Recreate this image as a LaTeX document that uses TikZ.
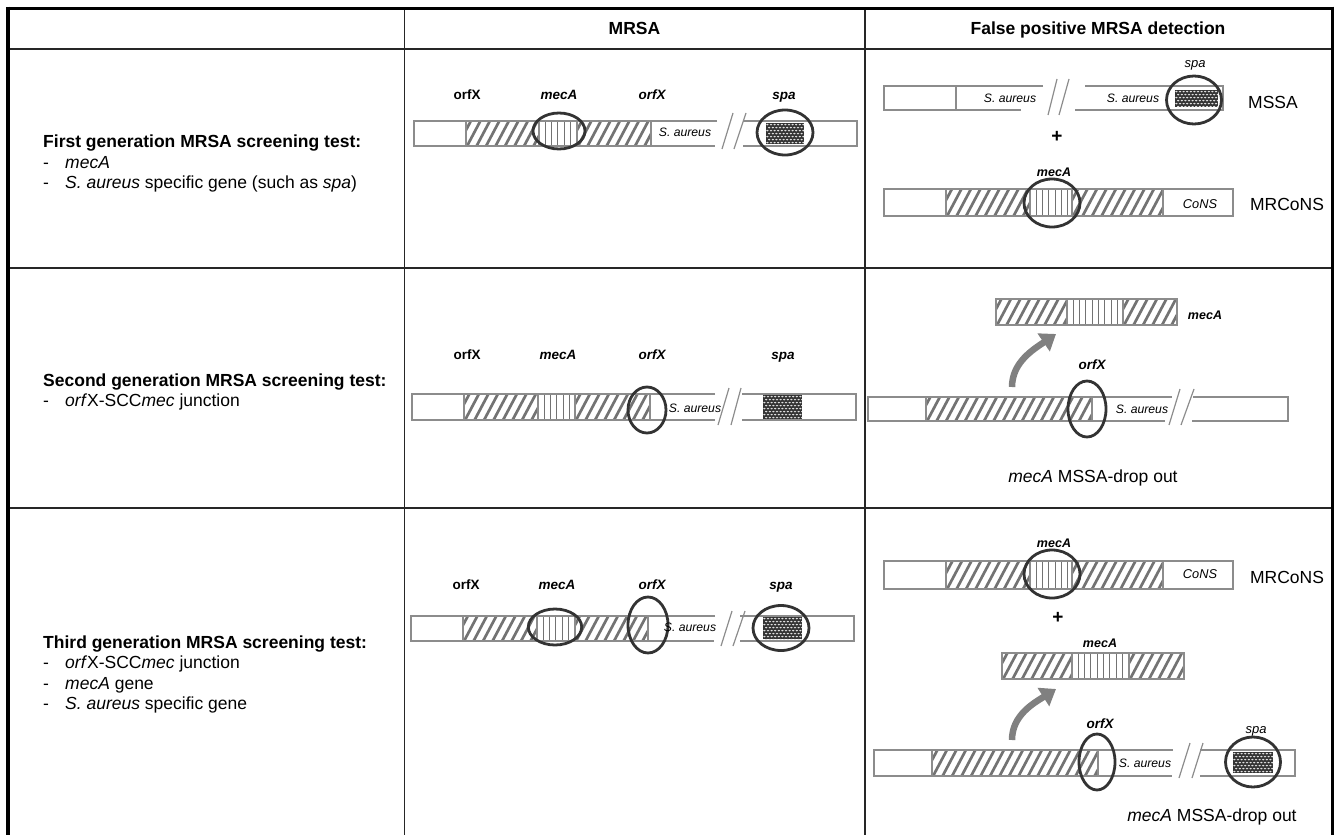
\documentclass[tikz,border=0pt]{standalone}
\usepackage{fontspec}
\setmainfont{Liberation Sans}
\usetikzlibrary{arrows.meta}

\tikzset{
  frame/.style={line width=3.2pt, black},
  grid/.style={line width=1.5pt, black!85},
  barline/.style={draw=black!45, line width=1.2pt},
  hatchline/.style={draw=black!55, line width=2.7pt},
  vline/.style={draw=black!55, line width=0.9pt},
  ring/.style={draw=black!80, line width=2.8pt},
  spafill/.style={fill=black!80},
  spadot/.style={fill=black!12},
  brk/.style={draw=black!45, line width=1.2pt},
  flip/.style={draw=black!50, line width=6.5pt, -{Triangle[length=15pt,width=21pt]}},
  head/.style={inner sep=0pt, text height=12.6pt, text depth=0pt, font=\fontsize{17.5}{20}\selectfont\bfseries},
  lefttxt/.style={inner sep=0pt, text height=12.6pt, text depth=0pt, anchor=west, font=\fontsize{17.5}{20}\selectfont},
  gene/.style={inner sep=0pt, text height=9.7pt, text depth=0pt, font=\fontsize{13.5}{15}\selectfont\bfseries},
  species/.style={inner sep=0pt, text height=8.8pt, text depth=0pt, font=\fontsize{12.2}{14}\selectfont\itshape},
  big/.style={inner sep=0pt, text height=12.6pt, text depth=0pt, font=\fontsize{17.5}{20}\selectfont},
  plus/.style={inner sep=0pt, font=\fontsize{19}{20}\selectfont\bfseries},
}

% hatched SCCmec segment: x1 y1 x2 y2
\newcommand\hatchbox[4]{%
  \begin{scope}
    \clip (#1,#2) rectangle (#3,#4);
    \foreach \k in {-4,...,22}{\draw[hatchline] ({#1+\k*9.5},#4+2) -- ++(17,-32);}
  \end{scope}
  \draw[barline] (#1,#2) rectangle (#3,#4);}

% vertically striped mecA segment
\newcommand\vstripebox[4]{%
  \begin{scope}
    \clip (#1,#2) rectangle (#3,#4);
    \foreach \k in {1,...,10}{\draw[vline] ({#1+\k*6.3},#2) -- ({#1+\k*6.3},#4);}
  \end{scope}
  \draw[barline] (#1,#2) rectangle (#3,#4);}

% dotted spa segment
\newcommand\spabox[4]{%
  \fill[spafill] (#1,#2) rectangle (#3,#4);
  \begin{scope}
    \clip (#1,#2) rectangle (#3,#4);
    \foreach \rr in {0,...,8}{
      \foreach \cc in {0,...,13}{
        \fill[spadot] ({#1+1.4+\cc*3.6+mod(\rr,2)*1.8},{#2+1.6+\rr*3.0}) ellipse (1.25 and 0.85);}}
  \end{scope}}

\begin{document}
\begin{tikzpicture}[x=1pt, y=-1pt]
\useasboundingbox (0,0) rectangle (1337,835);

% ---------------- table ----------------
\draw[grid] (8,49) -- (1332,49);
\draw[grid] (8,268) -- (1332,268);
\draw[grid] (8,508) -- (1332,508);
\draw[grid] (404.5,8) -- (404.5,835);
\draw[grid] (865,8) -- (865,835);
\draw[frame] (6.4,8.3) -- (1334,8.3);
\draw[frame] (8,6.7) -- (8,835);
\draw[frame] (1332.4,6.7) -- (1332.4,835);

\node[head] (hmrsa) at (634.5,28.5) {MRSA};
\node[head] (hfalse) at (1098,28.5) {False positive MRSA detection};

% ---------------- left column ----------------
\node[lefttxt, font=\fontsize{17.5}{20}\selectfont\bfseries] (g1) at (43,141) {First generation MRSA screening test:};
\node[lefttxt] (g1a) at (43,161.7) {\makebox[22pt][l]{-}\textit{mecA}};
\node[lefttxt] (g1b) at (43,182.3) {\makebox[22pt][l]{-}\textit{S. aureus} specific gene (such as \textit{spa})};

\node[lefttxt, font=\fontsize{17.5}{20}\selectfont\bfseries] (g2) at (43,380) {Second generation MRSA screening test:};
\node[lefttxt] (g2a) at (43,400.6) {\makebox[22pt][l]{-}\textit{orf}X-SCC\textit{mec} junction};

\node[lefttxt, font=\fontsize{17.5}{20}\selectfont\bfseries] (g3) at (43,641.7) {Third generation MRSA screening test:};
\node[lefttxt] (g3a) at (43,662.3) {\makebox[22pt][l]{-}\textit{orf}X-SCC\textit{mec} junction};
\node[lefttxt] (g3b) at (43,683) {\makebox[22pt][l]{-}\textit{mecA} gene};
\node[lefttxt] (g3c) at (43,703.6) {\makebox[22pt][l]{-}\textit{S. aureus} specific gene};

% ---------------- MRSA, row 1 ----------------
\draw[barline] (414,121) rectangle (466,146);
\hatchbox{466}{121}{539}{146}
\vstripebox{539}{121}{577}{146}
\hatchbox{577}{121}{651}{146}
\draw[barline] (717,121) -- (651,121);
\draw[barline] (651,146) -- (715,146);
\draw[brk] (722,149) -- (733,113);
\draw[brk] (734,149) -- (746,113);
\draw[barline] (743,121) -- (857,121) -- (857,146) -- (743,146);
\spabox{766}{123}{804}{144}
\draw[ring] (559,131) ellipse (26 and 18);
\draw[ring] (785,132.5) ellipse (28 and 22.5);
\node[species] (a1sa) at (685,132) {S. aureus};
\node[gene] (a1o1) at (467,95) {orfX};
\node[gene, font=\fontsize{13.5}{15}\selectfont\bfseries\itshape] (a1m) at (559,95) {mecA};
\node[gene, font=\fontsize{13.5}{15}\selectfont\bfseries\itshape] (a1o2) at (652,95) {orfX};
\node[gene, font=\fontsize{13.5}{15}\selectfont\bfseries\itshape] (a1s) at (784,95) {spa};

% ---------------- MRSA, row 2 ----------------
\draw[barline] (412,394) rectangle (464,420);
\hatchbox{464}{394}{538}{420}
\vstripebox{538}{394}{575}{420}
\hatchbox{575}{394}{650}{420}
\draw[barline] (715,394) -- (650,394);
\draw[barline] (650,420) -- (715,420);
\draw[brk] (718,425) -- (729,388);
\draw[brk] (731,425) -- (741,388);
\draw[barline] (742,394) -- (856,394) -- (856,420) -- (742,420);
\spabox{763}{395}{802}{419}
\draw[ring] (647,410) ellipse (19 and 23);
\node[species] (a2sa) at (695,408) {S. aureus};
\node[gene] (a2o1) at (467,355) {orfX};
\node[gene, font=\fontsize{13.5}{15}\selectfont\bfseries\itshape] (a2m) at (558,355) {mecA};
\node[gene, font=\fontsize{13.5}{15}\selectfont\bfseries\itshape] (a2o2) at (652,355) {orfX};
\node[gene, font=\fontsize{13.5}{15}\selectfont\bfseries\itshape] (a2s) at (783,355) {spa};

% ---------------- MRSA, row 3 ----------------
\draw[barline] (411,616) rectangle (463,641);
\hatchbox{463}{616}{537}{641}
\vstripebox{537}{616}{575}{641}
\hatchbox{575}{616}{648}{641}
\draw[barline] (715,616) -- (648,616);
\draw[barline] (648,641) -- (714,641);
\draw[brk] (721,646) -- (732,611);
\draw[brk] (733,646) -- (745,611);
\draw[barline] (740,616) -- (854,616) -- (854,641) -- (740,641);
\spabox{763}{617}{802}{639}
\draw[ring] (555,627) ellipse (26.7 and 18);
\draw[ring] (648,625) ellipse (20 and 28);
\draw[ring] (781,628) ellipse (28 and 22.5);
\node[species] (a3sa) at (690,627) {S. aureus};
\node[gene] (a3o1) at (466,585) {orfX};
\node[gene, font=\fontsize{13.5}{15}\selectfont\bfseries\itshape] (a3m) at (557,585) {mecA};
\node[gene, font=\fontsize{13.5}{15}\selectfont\bfseries\itshape] (a3o2) at (652,585) {orfX};
\node[gene, font=\fontsize{13.5}{15}\selectfont\bfseries\itshape] (a3s) at (781,585) {spa};

% ---------------- false positives, row 1 ----------------
% MSSA
\draw[barline] (884,86) rectangle (956,110);
\draw[barline] (1043,86) -- (956,86);
\draw[barline] (956,110) -- (1021,110);
\draw[brk] (1048,115) -- (1057,79);
\draw[brk] (1059,115) -- (1069,79);
\draw[barline] (1085,86) -- (1223,86) -- (1223,110) -- (1075,110);
\spabox{1175}{90}{1218}{107}
\draw[ring] (1194,100) ellipse (27.5 and 24);
\node[species] (b1sa1) at (1010,98) {S. aureus};
\node[species] (b1sa2) at (1133,98) {S. aureus};
\node[species, font=\fontsize{13}{15}\selectfont\itshape] (b1s) at (1195,63) {spa};
\node[big] (b1mssa) at (1273,102) {MSSA};
\node[plus] (b1plus) at (1057,137) {+};
% MRCoNS
\draw[barline] (884,189) rectangle (946,216);
\hatchbox{946}{189}{1030}{216}
\vstripebox{1030}{189}{1072}{216}
\hatchbox{1072}{189}{1163}{216}
\draw[barline] (1163,189) rectangle (1233,216);
\draw[ring] (1052,203) ellipse (28 and 24);
\node[gene, font=\fontsize{12.5}{14}\selectfont\bfseries\itshape] (b1m) at (1054,172) {mecA};
\node[species, font=\fontsize{12.8}{14}\selectfont\itshape] (b1cons) at (1200,204) {CoNS};
\node[big] (b1mrcons) at (1287,204) {MRCoNS};

% ---------------- false positives, row 2 ----------------
\hatchbox{996}{299}{1067}{325}
\vstripebox{1067}{299}{1123}{325}
\hatchbox{1123}{299}{1177}{325}
\node[gene, font=\fontsize{12.5}{14}\selectfont\bfseries\itshape] (b2m) at (1205,315) {mecA};
\coordinate (b2from) at (1012,387);
\coordinate (b2to) at (1056,334);
\draw[flip] (b2from) .. controls (1012,362) and (1034,349) .. (b2to);
\node[gene, font=\fontsize{13.5}{15}\selectfont\bfseries\itshape] (b2o) at (1092,365) {orfX};
\draw[barline] (868,397) rectangle (926,421);
\hatchbox{926}{397}{1092}{421}
\draw[barline] (1172,397) -- (1092,397);
\draw[barline] (1092,421) -- (1165,421);
\draw[brk] (1169,425) -- (1180,389);
\draw[brk] (1181,425) -- (1194,389);
\draw[barline] (1193,397) -- (1288,397) -- (1288,421) -- (1192,421);
\draw[ring] (1087,409) ellipse (19 and 28);
\node[species] (b2sa) at (1142,409) {S. aureus};
\node[big] (b2drop) at (1093,476) {\textit{mecA} MSSA-drop out};

% ---------------- false positives, row 3 ----------------
\draw[barline] (884,561) rectangle (946,589);
\hatchbox{946}{561}{1030}{589}
\vstripebox{1030}{561}{1072}{589}
\hatchbox{1072}{561}{1163}{589}
\draw[barline] (1163,561) rectangle (1233,589);
\draw[ring] (1052,574) ellipse (28 and 24);
\node[gene, font=\fontsize{12.5}{14}\selectfont\bfseries\itshape] (b3m1) at (1054,543) {mecA};
\node[species, font=\fontsize{12.8}{14}\selectfont\itshape] (b3cons) at (1200,574) {CoNS};
\node[big] (b3mrcons) at (1287,577) {MRCoNS};
\node[plus] (b3plus) at (1058,618) {+};
\node[gene, font=\fontsize{12.5}{14}\selectfont\bfseries\itshape] (b3m2) at (1100,643) {mecA};
\hatchbox{1002}{653}{1072}{679}
\vstripebox{1072}{653}{1129}{679}
\hatchbox{1129}{653}{1184}{679}
\coordinate (b3from) at (1012,740);
\coordinate (b3to) at (1056,689);
\draw[flip] (b3from) .. controls (1012,715) and (1034,703) .. (b3to);
\node[gene, font=\fontsize{13.5}{15}\selectfont\bfseries\itshape] (b3o) at (1100,724) {orfX};
\draw[barline] (874,750) rectangle (932,776);
\hatchbox{932}{750}{1098}{776}
\draw[barline] (1173,750) -- (1098,750);
\draw[barline] (1098,776) -- (1172,776);
\draw[brk] (1179,778) -- (1190,743);
\draw[brk] (1192,778) -- (1203,743);
\draw[barline] (1200,750) -- (1295,750) -- (1295,776) -- (1200,776);
\spabox{1233}{752}{1273}{773}
\draw[ring] (1097,762) ellipse (18 and 28);
\draw[ring] (1253,762) ellipse (27.5 and 25);
\node[species] (b3sa) at (1145,763) {S. aureus};
\node[species, font=\fontsize{13}{15}\selectfont\itshape] (b3s) at (1256,729) {spa};
\node[big] (b3drop) at (1212,815) {\textit{mecA} MSSA-drop out};

\end{tikzpicture}
\end{document}
